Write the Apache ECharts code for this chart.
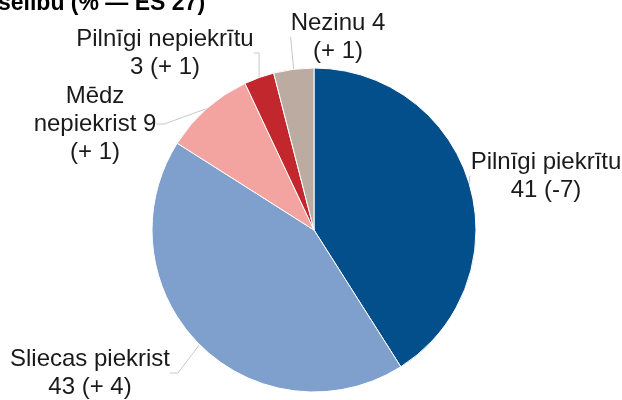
<!DOCTYPE html>
<html><head><meta charset="utf-8">
<script src="https://cdn.jsdelivr.net/npm/echarts@6/dist/echarts.min.js"></script>
<style>html,body{margin:0;padding:0;background:#fff}#c{width:622px;height:400px}</style>
</head><body><div id="c"></div>
<script>
const categories = ['Pilnīgi piekrītu', 'Sliecas piekrist', 'Mēdz nepiekrist', 'Pilnīgi nepiekrītu', 'Nezinu'];
const values = [41, 43, 9, 3, 4];
const changes = ['-7', '+ 4', '+ 1', '+ 1', '+ 1'];
const colors = ['#024f8b', '#7f9fcc', '#f3a3a0', '#c1272d', '#bcaba1'];
const labelTexts = [
  'Pilnīgi piekrītu\n41 (-7)',
  'Sliecas piekrist\n43 (+ 4)',
  'Mēdz\nnepiekrist 9\n(+ 1)',
  'Pilnīgi nepiekrītu\n3 (+ 1)',
  'Nezinu 4\n(+ 1)'
];
const labelPos = [[546, 176], [90, 373], [95, 124], [165, 53], [338, 37]];

const chart = echarts.init(document.getElementById('c'), null, {renderer: 'canvas'});
chart.setOption({
  animation: false,
  title: {
    text: 'selību (% — ES 27)', left: -7, top: -13,
    textStyle: {fontFamily: 'Liberation Sans, Arial, sans-serif', fontSize: 23, fontWeight: 'bold', color: '#000'}
  },
  series: [{
    type: 'pie',
    center: [314, 230],
    radius: [0, 162],
    startAngle: 90,
    clockwise: true,
    itemStyle: {borderColor: '#fff', borderWidth: 1},
    label: {
      show: true, position: 'outside',
      formatter: p => labelTexts[p.dataIndex],
      fontFamily: 'Liberation Sans, Arial, sans-serif', fontSize: 24, color: '#1a1a1a',
      lineHeight: 28, align: 'center', overflow: 'none'
    },
    labelLine: {show: true, length: 8, length2: 8, lineStyle: {color: '#c8c8c8', width: 1}},
    labelLayout: p => ({x: labelPos[p.dataIndex][0], y: labelPos[p.dataIndex][1], align: 'center', verticalAlign: 'middle'}),
    data: categories.map((c, i) => ({name: c, value: values[i], itemStyle: {color: colors[i]}}))
  }]
});
</script></body></html>
